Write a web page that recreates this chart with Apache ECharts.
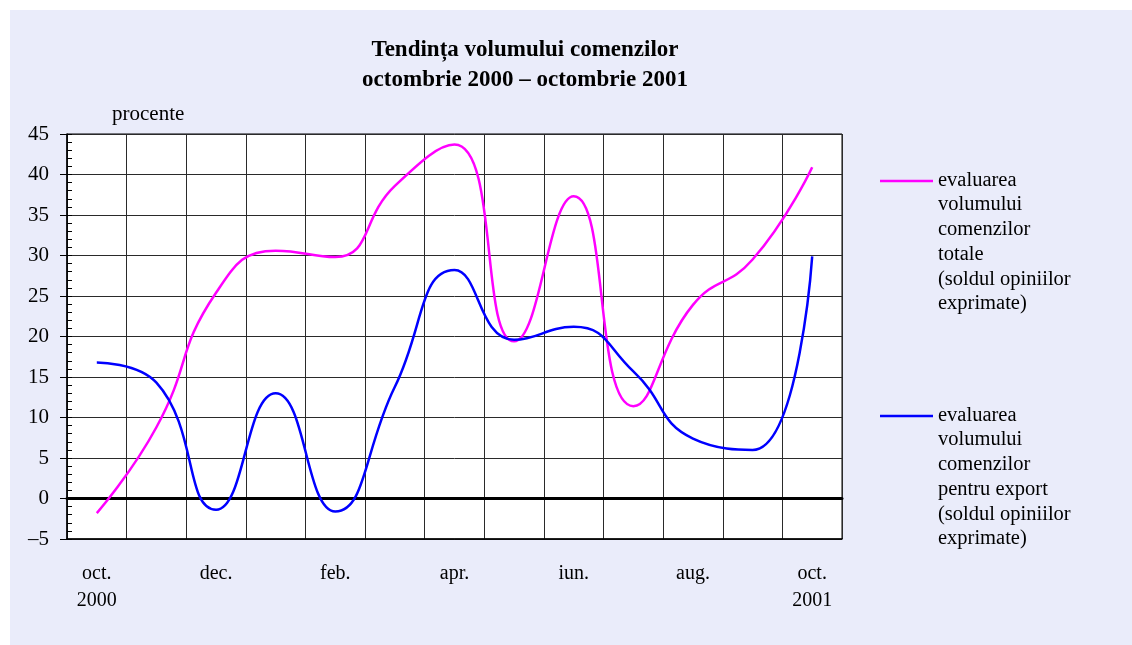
<!DOCTYPE html>
<html>
<head>
<meta charset="utf-8">
<script src="https://cdn.jsdelivr.net/npm/echarts@6/dist/echarts.min.js"></script>
<style>
html,body{margin:0;padding:0;background:#ffffff;}
#chart{width:1132px;height:645px;}
</style>
</head>
<body>
<div id="chart"></div>
<script>
const categories = ['oct.\n2000','nov.','dec.','ian.','feb.','mar.','apr.','mai','iun.','iul.','aug.','sep.','oct.\n2001'];
const totalOrders = [-1.8, 8.8, 25.4, 30.6, 29.8, 38.6, 43.7, 19.4, 37.3, 11.4, 23.9, 29.5, 40.9];
const exportOrders = [16.8, 14.3, -1.4, 13.0, -1.6, 13.8, 28.2, 19.6, 21.2, 15.7, 7.4, 6.0, 29.9];
const yTicks = { min: -5, max: 45, step: 5 };
const titleLines = ['Tendința volumului comenzilor', 'octombrie 2000 – octombrie 2001'];
const unitLabel = 'procente';
const legendTotal = 'evaluarea\nvolumului\ncomenzilor\ntotale\n(soldul opiniilor\nexprimate)';
const legendExport = 'evaluarea\nvolumului\ncomenzilor\npentru export\n(soldul opiniilor\nexprimate)';

const FONT = '"Liberation Serif", "Times New Roman", serif';
const chart = echarts.init(document.getElementById('chart'), null, {renderer: 'canvas'});

const option = {
  backgroundColor: '#ffffff',
  animation: false,
  textStyle: { fontFamily: FONT },
  title: {
    text: titleLines.join('\n'),
    left: 520, top: 30, textAlign: 'center',
    textStyle: { fontFamily: FONT, fontWeight: 'bold', fontSize: 23, lineHeight: 30, color: '#000' }
  },
  graphic: [
    { type: 'rect', z: -10, silent: true, shape: { x: 10, y: 10, width: 1122, height: 635 }, style: { fill: '#eaecfa' } },
    { type: 'text', left: 112, top: 104, style: { text: unitLabel, font: '21px ' + FONT, fill: '#000' } },
    { type: 'line', shape: { x1: 880, y1: 181, x2: 933, y2: 181 }, style: { stroke: '#ff00ff', lineWidth: 2.5 } },
    { type: 'text', left: 938, top: 168, style: { text: legendTotal, font: '20.5px ' + FONT, lineHeight: 24.7, fill: '#000' } },
    { type: 'line', shape: { x1: 880, y1: 416, x2: 933, y2: 416 }, style: { stroke: '#0000ff', lineWidth: 2.5 } },
    { type: 'text', left: 938, top: 403, style: { text: legendExport, font: '20.5px ' + FONT, lineHeight: 24.7, fill: '#000' } }
  ],
  grid: { left: 67, right: 290, top: 134, bottom: 106, show: true, backgroundColor: '#ffffff', borderColor: '#000', borderWidth: 1, containLabel: false },
  xAxis: [
    {
      type: 'category', data: categories, boundaryGap: true, position: 'bottom',
      axisLine: { onZero: false, lineStyle: { color: '#000', width: 1.5 } },
      axisTick: { show: false, interval: 0 },
      splitLine: { show: true, interval: 0, lineStyle: { color: '#2a2a2a', width: 1 } },
      axisLabel: { interval: 1, margin: 21, fontSize: 20, lineHeight: 27, color: '#000', fontFamily: FONT }
    },
    {
      type: 'category', data: categories, boundaryGap: true, position: 'bottom',
      axisLine: { show: true, onZero: true, lineStyle: { color: '#000', width: 3 } },
      axisTick: { show: false }, axisLabel: { show: false }, splitLine: { show: false }
    }
  ],
  yAxis: [
    {
      type: 'value', min: yTicks.min, max: yTicks.max, interval: yTicks.step,
      axisLine: { show: true, lineStyle: { color: '#000', width: 1.5 } },
      axisTick: { show: true, length: 7, lineStyle: { color: '#000' } },
      splitLine: { show: true, lineStyle: { color: '#2a2a2a', width: 1 } },
      axisLabel: { margin: 18, fontSize: 21, color: '#000', fontFamily: FONT,
        formatter: v => (v < 0 ? '–' + Math.abs(v) : String(v)) }
    },
    {
      type: 'value', min: yTicks.min, max: yTicks.max, interval: 1, position: 'left',
      axisLine: { show: false },
      axisTick: { show: true, inside: true, length: 5, lineStyle: { color: '#000' } },
      splitLine: { show: false }, axisLabel: { show: false }
    }
  ],
  series: [
    {
      name: 'total', type: 'line', data: totalOrders, smooth: 0.5, symbol: 'none',
      lineStyle: { color: '#ff00ff', width: 2.5 }, z: 5
    },
    {
      name: 'export', type: 'line', data: exportOrders, smooth: 0.5, symbol: 'none',
      lineStyle: { color: '#0000ff', width: 2.5 }, z: 6
    }
  ]
};
chart.setOption(option);
</script>
</body>
</html>
